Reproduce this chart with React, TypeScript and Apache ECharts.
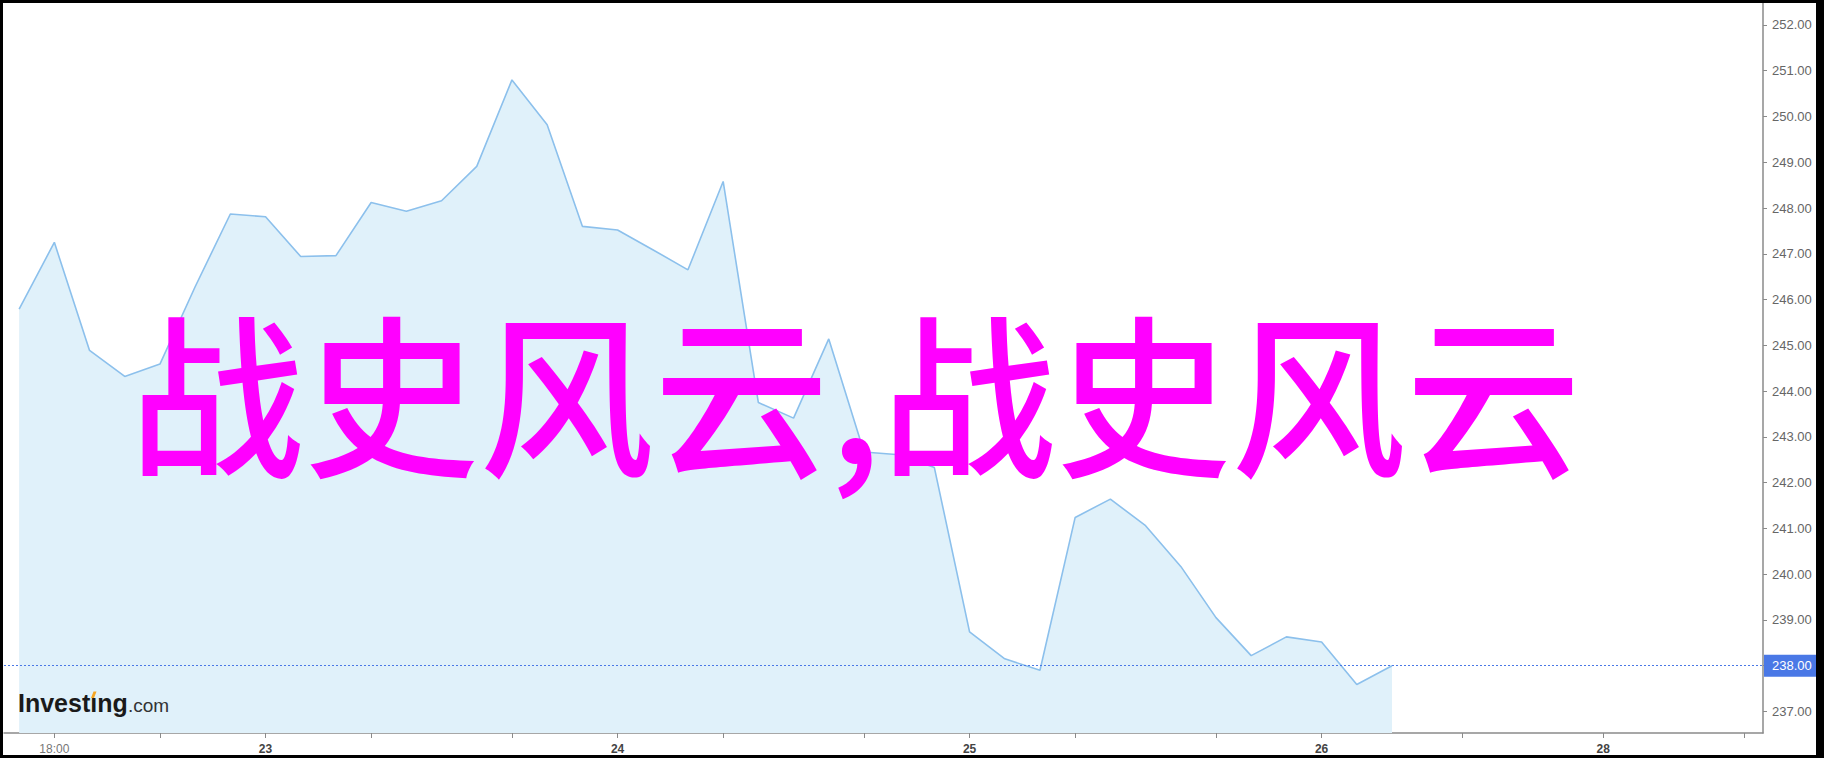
import React, { useEffect, useRef } from "react";
import * as echarts from "echarts";

// point index along the trading-time axis (evenly spaced bars)
const pointIndex = [
  0, 1, 2, 3, 4, 5, 6, 7, 8, 9, 10, 11, 12, 13, 14, 15, 16, 17, 18, 19,
  20, 21, 22, 23, 24, 25, 26, 27, 28, 29, 30, 31, 32, 33, 34, 35, 36, 37, 38, 39,
];
const prices = [
  245.79, 247.25, 244.89, 244.32, 244.59, 246.28, 247.87, 247.81, 246.94, 246.96,
  248.12, 247.93, 248.16, 248.91, 250.8, 249.82, 247.6, 247.52, 247.09, 246.65,
  248.58, 243.75, 243.41, 245.14, 242.67, 242.61, 242.33, 238.74, 238.15, 237.9,
  241.24, 241.64, 241.06, 240.17, 239.05, 238.22, 238.63, 238.52, 237.59, 238.0,
];
const lastPrice = 238.0;

const xTickValues = [1, 4, 7, 10, 14, 17, 20, 24, 27, 30, 34, 37, 41, 45, 49];
const xLabelValues = [1, 7, 17, 27, 37, 45];
const xLabelTexts = ["18:00", "23", "24", "25", "26", "28"];
const xLabelIsTime = [true, false, false, false, false, false];

const yTickValues = [237, 238, 239, 240, 241, 242, 243, 244, 245, 246, 247, 248, 249, 250, 251, 252];

const watermark = "战史风云,战史风云";
const brandName = "Investıng";
const brandSuffix = ".com";

export default function App() {
  const ref = useRef<HTMLDivElement>(null);

  useEffect(() => {
    if (!ref.current) return;
    const chart = echarts.init(ref.current, null, { renderer: "svg" });
    const data = pointIndex.map((x, i) => [x, prices[i]]);

    const option: any = {
      animation: false,
      backgroundColor: "#ffffff",
      grid: { left: 1, right: 53, top: 0, bottom: 21.5, containLabel: false },
      xAxis: {
        type: "value",
        min: -0.43,
        max: 49.54,
        axisLine: { show: true, onZero: false, lineStyle: { color: "#8a8a8a", width: 1.5 } },
        axisTick: {
          show: true,
          customValues: xTickValues,
          length: 5,
          lineStyle: { color: "#8a8a8a", width: 1 },
        },
        axisLabel: {
          customValues: xLabelValues,
          margin: 10,
          formatter: (v: number) => {
            const k = xLabelValues.indexOf(Math.round(v));
            if (k < 0) return "";
            return xLabelIsTime[k] ? `{t|${xLabelTexts[k]}}` : `{d|${xLabelTexts[k]}}`;
          },
          rich: {
            t: { color: "#777777", fontSize: 12, fontFamily: "Liberation Sans, Arial" },
            d: { color: "#444444", fontSize: 12, fontWeight: "bold", fontFamily: "Liberation Sans, Arial" },
          },
        },
        splitLine: { show: false },
      },
      yAxis: {
        type: "value",
        position: "right",
        min: 236.53,
        max: 252.48,
        axisLine: { show: true, onZero: false, lineStyle: { color: "#8a8a8a", width: 1.5 } },
        axisTick: {
          show: true,
          customValues: yTickValues,
          length: 4,
          lineStyle: { color: "#8a8a8a", width: 1 },
        },
        axisLabel: {
          customValues: yTickValues,
          margin: 9,
          color: "#666666",
          fontSize: 13,
          fontFamily: "Liberation Sans, Arial",
          formatter: (v: number) => v.toFixed(2),
        },
        splitLine: { show: false },
      },
      series: [
        {
          type: "line",
          data,
          symbol: "none",
          lineStyle: { color: "#8cc0ec", width: 1.6 },
          areaStyle: { color: "#e0f1fa", opacity: 1 },
          markLine: {
            silent: true,
            symbol: ["none", "none"],
            data: [{ yAxis: lastPrice }],
            lineStyle: { type: [2, 2], color: "#4a78e6", width: 1 },
            label: {
              position: "end",
              distance: 1,
              formatter: lastPrice.toFixed(2),
              color: "#ffffff",
              fontSize: 13,
              fontFamily: "Liberation Sans, Arial",
              backgroundColor: "#4a78e6",
              padding: [5, 8, 4, 8],
            },
            emphasis: { disabled: true },
          },
        },
      ],
      graphic: [
        {
          type: "text",
          x: 852,
          y: 384,
          z: 100,
          style: {
            text: watermark,
            fill: "#ff00ff",
            fontSize: 175,
            fontFamily: "Noto Sans CJK SC",
            fontWeight: 500,
            align: "center",
            verticalAlign: "middle",
          },
        },
        {
          type: "text",
          x: 15,
          y: 700.4,
          z: 50,
          style: {
            text: brandName,
            fill: "#1a1a1a",
            fontSize: 25,
            fontWeight: "bold",
            fontFamily: "Liberation Sans, Arial",
            align: "left",
            verticalAlign: "middle",
          },
        },
        {
          type: "polygon",
          z: 51,
          shape: { points: [[88, 695], [90.5, 688.5], [93.5, 688.5], [91, 695]] },
          style: { fill: "#f5a623" },
        },
        {
          type: "text",
          x: 125,
          y: 702.1,
          z: 50,
          style: {
            text: brandSuffix,
            fill: "#333333",
            fontSize: 19,
            fontFamily: "Liberation Sans, Arial",
            align: "left",
            verticalAlign: "middle",
          },
        },
      ],
    };

    chart.setOption(option);
    return () => chart.dispose();
  }, []);

  return (
    <div
      style={{
        position: "fixed",
        left: 0,
        top: 0,
        width: 1824,
        height: 758,
        background: "#000000",
        overflow: "hidden",
      }}
    >
      <div
        ref={ref}
        style={{ position: "absolute", left: 3, top: 3, width: 1813, height: 752, background: "#ffffff" }}
      />
    </div>
  );
}
